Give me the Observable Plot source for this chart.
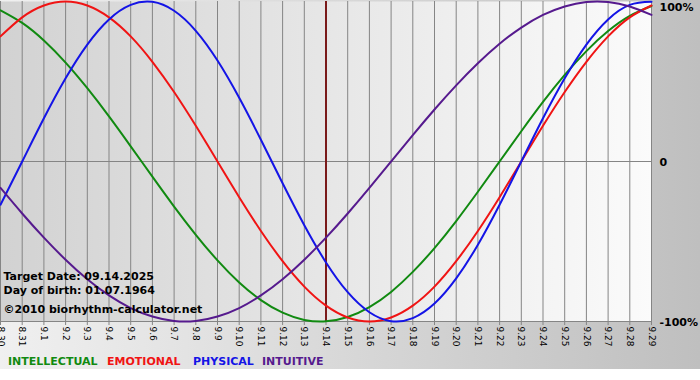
<!DOCTYPE html>
<html><head><meta charset="utf-8">
<script src="https://cdn.jsdelivr.net/npm/d3@7"></script>
<script src="https://cdn.jsdelivr.net/npm/@observablehq/plot@0.6"></script>
<style>
html,body{margin:0;padding:0;background:#fff;}
#chart svg{display:block;}
</style></head><body><div id="chart"></div>
<script>
const dayLabels = ["8.30","8.31","9.1","9.2","9.3","9.4","9.5","9.6","9.7","9.8","9.9","9.10","9.11","9.12","9.13","9.14","9.15","9.16","9.17","9.18","9.19","9.20","9.21","9.22","9.23","9.24","9.25","9.26","9.27","9.28","9.29"];
const intellectual = [0.945,0.866,0.756,0.618,0.458,0.282,0.095,-0.095,-0.282,-0.458,-0.618,-0.756,-0.866,-0.945,-0.990,-0.999,-0.972,-0.910,-0.815,-0.690,-0.541,-0.372,-0.189,0.000,0.189,0.372,0.541,0.690,0.815,0.910,0.972];
const emotional = [0.782,0.901,0.975,1.000,0.975,0.901,0.782,0.623,0.434,0.223,0.000,-0.223,-0.434,-0.623,-0.782,-0.901,-0.975,-1.000,-0.975,-0.901,-0.782,-0.623,-0.434,-0.223,0.000,0.223,0.434,0.623,0.782,0.901,0.975];
const physical = [-0.270,0.000,0.270,0.520,0.731,0.888,0.979,0.998,0.942,0.817,0.631,0.398,0.136,-0.136,-0.398,-0.631,-0.817,-0.942,-0.998,-0.979,-0.888,-0.731,-0.520,-0.270,0.000,0.270,0.520,0.731,0.888,0.979,0.998];
const intuitive = [-0.165,-0.325,-0.476,-0.614,-0.736,-0.837,-0.916,-0.969,-0.997,-0.997,-0.969,-0.916,-0.837,-0.736,-0.614,-0.476,-0.325,-0.165,0.000,0.165,0.325,0.476,0.614,0.736,0.837,0.916,0.969,0.997,0.997,0.969,0.916];
const seriesNames = ["INTELLECTUAL","EMOTIONAL","PHYSICAL","INTUITIVE"];
const seriesColors = ["#118a11","#f01414","#1414e6","#561a8e"];
const targetDay = "9.14";
const yLabels = [{v:1,t:"100%"},{v:0,t:"0"},{v:-1,t:"-100%"}];
const infoLines = ["Target Date: 09.14.2025","Day of birth: 01.07.1964","©2010 biorhythm-calculator.net"];

const seriesValues = [intellectual, emotional, physical, intuitive];
const rows = seriesNames.flatMap((s, k) => seriesValues[k].map((v, i) => ({day: i, value: v, series: s})));
const days = dayLabels.map((d, i) => i);
const targetIndex = dayLabels.indexOf(targetDay);
const font = "'DejaVu Sans', Verdana, sans-serif";

const defsMark = () => {
  const g = d3.create("svg:g");
  const defs = g.append("defs");
  const pg = defs.append("linearGradient").attr("id", "plotGrad").attr("x1", 0).attr("x2", 1).attr("y1", 0).attr("y2", 0);
  pg.append("stop").attr("offset", "0%").attr("stop-color", "#d2d2d2");
  pg.append("stop").attr("offset", "100%").attr("stop-color", "#fbfbfb");
  return g.node();
};

const legendMark = (index, scales, values, dims) => {
  const g = d3.create("svg:g").attr("font-family", font).attr("font-weight", "bold").attr("font-size", 11).attr("text-anchor", "start");
  const xs = [8, 107, 193, 262];
  seriesNames.forEach((s, k) => {
    g.append("text").attr("x", xs[k]).attr("y", dims.height - 15).attr("fill", seriesColors[k]).text(s);
  });
  return g.node();
};

const chart = Plot.plot({
  width: 700,
  height: 380,
  marginLeft: 0,
  marginRight: 49,
  marginTop: 1,
  marginBottom: 59,
  style: {
    fontFamily: font,
    background: "linear-gradient(to bottom, transparent 369px, #ffffff 369px), linear-gradient(to right, #f0f0f0, #bfbfbf)",
    overflow: "visible"
  },
  x: {domain: [0, dayLabels.length - 1], axis: null, label: null},
  y: {domain: [-1, 1], axis: null, label: null},
  color: {domain: seriesNames, range: seriesColors},
  marks: [
    defsMark,
    Plot.frame({fill: "url(#plotGrad)", stroke: null}),
    Plot.ruleX(days, {x: d => d, y1: -1, y2: 1, stroke: "#858585", strokeWidth: 1}),
    Plot.ruleY([0, -1], {stroke: "#858585", strokeWidth: 1}),
    Plot.axisX({ticks: days, tickFormat: i => dayLabels[i], tickRotate: 90, tickSize: 4, tickPadding: 1, fontSize: 9, stroke: "#858585", fill: "#000", label: null}),
    Plot.ruleX([targetIndex], {y1: -1, y2: 1, stroke: "#7a1a1a", strokeWidth: 2}),
    Plot.line(rows, {x: "day", y: "value", z: "series", stroke: "series", strokeWidth: 2, curve: "natural"}),
    Plot.text(yLabels.filter(d => d.v === 1), {x: () => dayLabels.length - 1, y: "v", text: "t", textAnchor: "start", dx: 8, dy: 6, fontWeight: "bold", fontSize: 11, fill: "#000"}),
    Plot.text(yLabels.filter(d => d.v !== 1), {x: () => dayLabels.length - 1, y: "v", text: "t", textAnchor: "start", dx: 8, dy: 1, fontWeight: "bold", fontSize: 11, fill: "#000"}),
    Plot.text([infoLines[0]], {frameAnchor: "top-left", dx: 3, dy: 271, textAnchor: "start", fontWeight: "bold", fontSize: 11, fill: "#000"}),
    Plot.text([infoLines[1]], {frameAnchor: "top-left", dx: 3, dy: 285, textAnchor: "start", fontWeight: "bold", fontSize: 11, fill: "#000"}),
    Plot.text([infoLines[2]], {frameAnchor: "top-left", dx: 3, dy: 304, textAnchor: "start", fontWeight: "bold", fontSize: 11, fill: "#000"}),
    legendMark
  ]
});
document.getElementById("chart").append(chart);
</script></body></html>
